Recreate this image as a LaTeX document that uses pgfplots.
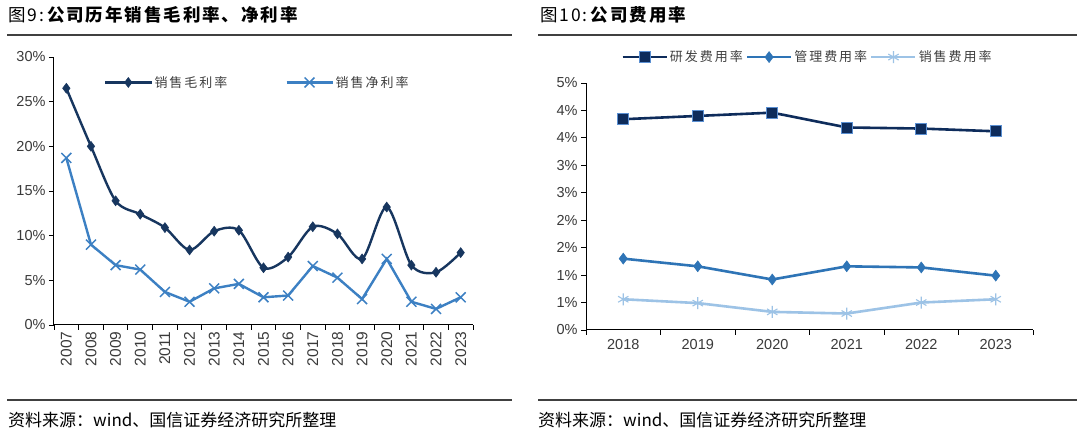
\documentclass[border=0pt]{standalone}
\usepackage{fontspec}
\setmainfont{Liberation Sans}
\newfontfamily\cjk{Noto Sans CJK SC}
\newfontfamily\cjkt{Noto Sans CJK SC}[LetterSpace=11]
\newfontfamily\cjkl{Noto Sans CJK SC}[LetterSpace=15]
\usepackage{pgfplots}
\pgfplotsset{compat=1.18}
\definecolor{gross}{HTML}{17365F}
\definecolor{net}{HTML}{3C80C3}
\definecolor{rd}{HTML}{0E2C5B}
\definecolor{rdedge}{HTML}{5A8FD2}
\definecolor{mgmt}{HTML}{2E74B6}
\definecolor{sales}{HTML}{9DC3E6}
\definecolor{ticktxt}{HTML}{3A3A3A}
\definecolor{legtxt}{HTML}{3F3F3F}
\definecolor{rulec}{HTML}{404040}
\pgfplotsset{
  common/.style={
    scale only axis,
    axis x line*=bottom, axis y line*=left,
    axis line style={-, line width=1pt, black},
    tick style={black, line width=0.9pt},
    tick align=outside,
    major tick length=5pt,
    xtick pos=bottom, ytick pos=left,
    tick label style={font=\fontsize{14.5}{16}\selectfont, text=ticktxt},
    xticklabels={},
    clip=false,
  }
}
\begin{document}
\begin{tikzpicture}[x=1pt,y=1pt]
\path[fill=white] (0,0) rectangle (1080,446);
% titles and rules
\node[anchor=west,inner sep=0] at (8,431) {\fontsize{17.5}{20}\cjkt 图9:\hspace{3pt}\bfseries 公司历年销售毛利率、净利率};
\node[anchor=west,inner sep=0] at (540,431) {\fontsize{17.5}{20}\cjkt 图10:\hspace{3pt}\bfseries 公司费用率};
\draw[line width=1.4pt, rulec] (7,411) -- (512,411);
\draw[line width=1.4pt, rulec] (538,411) -- (1077,411);
\draw[line width=1.4pt, rulec] (7,46) -- (512,46);
\draw[line width=1.4pt, rulec] (538,46) -- (1077,46);
\node[anchor=west,inner sep=0] at (8,26) {\fontsize{17}{19}\cjk 资料来源：wind、国信证券经济研究所整理};
\node[anchor=west,inner sep=0] at (538,26) {\fontsize{17}{19}\cjk 资料来源：wind、国信证券经济研究所整理};

% left chart
\begin{axis}[common,
  at={(54pt,121pt)}, anchor=south west, width=419pt, height=268pt,
  xmin=-0.5, xmax=16.5, ymin=0, ymax=30,
  xtick={-0.5,0.5,...,16.5},
  extra x ticks={0,1,...,16},
  extra x tick labels={2007,2008,2009,2010,2011,2012,2013,2014,2015,2016,2017,2018,2019,2020,2021,2022,2023},
  extra x tick style={major tick length=0pt, tick label style={rotate=90, anchor=east, xshift=-3pt, font=\fontsize{15.5}{17}\selectfont}},
  ytick={0,5,...,30},
  yticklabels={0\%,5\%,10\%,15\%,20\%,25\%,30\%},
  legend columns=2,
  legend style={at={(0.112,0.905)}, anchor=west, draw=none, fill=none,
    font=\fontsize{13}{15}\cjkl, text=legtxt,
    /tikz/every even column/.append style={column sep=56pt}},
  legend cell align=left,
  legend image code/.code={\draw[mark repeat=2,mark phase=2,#1] plot coordinates {(0pt,0pt) (23pt,0pt) (46pt,0pt)};},
]
\addplot[gross, line width=2.4pt, smooth, tension=0.5, mark=diamond*, mark size=5pt, mark options={solid, fill=gross, line width=0.5pt}]
coordinates {(0,26.5) (1,20.0) (2,13.9) (3,12.4) (4,10.9) (5,8.4) (6,10.5) (7,10.6) (8,6.4) (9,7.6) (10,11.0) (11,10.2) (12,7.4) (13,13.2) (14,6.7) (15,5.9) (16,8.1)};
\addlegendentry{销售毛利率}
\addplot[net, line width=2.4pt, mark=x, mark size=7pt, mark options={solid, line width=1.5pt}]
coordinates {(0,18.7) (1,9.0) (2,6.7) (3,6.2) (4,3.7) (5,2.6) (6,4.1) (7,4.6) (8,3.1) (9,3.3) (10,6.6) (11,5.3) (12,2.9) (13,7.4) (14,2.6) (15,1.8) (16,3.1)};
\addlegendentry{销售净利率}
\end{axis}

% right chart
\begin{axis}[common,
  at={(586pt,116pt)}, anchor=south west, width=447pt, height=247pt,
  xmin=-0.5, xmax=5.5, ymin=0, ymax=4.5,
  xtick={-0.5,0.5,...,5.5},
  extra x ticks={0,1,...,5},
  extra x tick labels={2018,2019,2020,2021,2022,2023},
  extra x tick style={major tick length=0pt, tick label style={yshift=-6pt}},
  ytick={0,0.5,...,4.5},
  yticklabels={0\%,1\%,1\%,2\%,2\%,3\%,3\%,4\%,4\%,5\%},
  legend columns=3,
  legend style={at={(0.072,1.105)}, anchor=west, draw=none, fill=none,
    font=\fontsize{13}{15}\cjkl, text=legtxt,
    /tikz/every even column/.append style={column sep=1pt}},
  legend cell align=left,
  legend image code/.code={\draw[mark repeat=2,mark phase=2,#1] plot coordinates {(0pt,0pt) (22pt,0pt) (44pt,0pt)};},
]
\addplot[rd, line width=2.6pt, mark=square*, mark size=5.5pt, mark options={solid, fill=rd, draw=rdedge, line width=0.8pt}]
coordinates {(0,3.84) (1,3.90) (2,3.96) (3,3.69) (4,3.67) (5,3.62)};
\addlegendentry{研发费用率}
\addplot[mgmt, line width=2.6pt, mark=diamond*, mark size=5.5pt, mark options={solid, fill=mgmt, line width=0.5pt}]
coordinates {(0,1.30) (1,1.16) (2,0.92) (3,1.16) (4,1.14) (5,0.99)};
\addlegendentry{管理费用率}
\addplot[sales, line width=2.6pt, mark=asterisk, mark size=6pt, mark options={solid, line width=1.1pt}]
coordinates {(0,0.56) (1,0.49) (2,0.33) (3,0.30) (4,0.50) (5,0.56)};
\addlegendentry{销售费用率}
\end{axis}
\end{tikzpicture}
\end{document}
